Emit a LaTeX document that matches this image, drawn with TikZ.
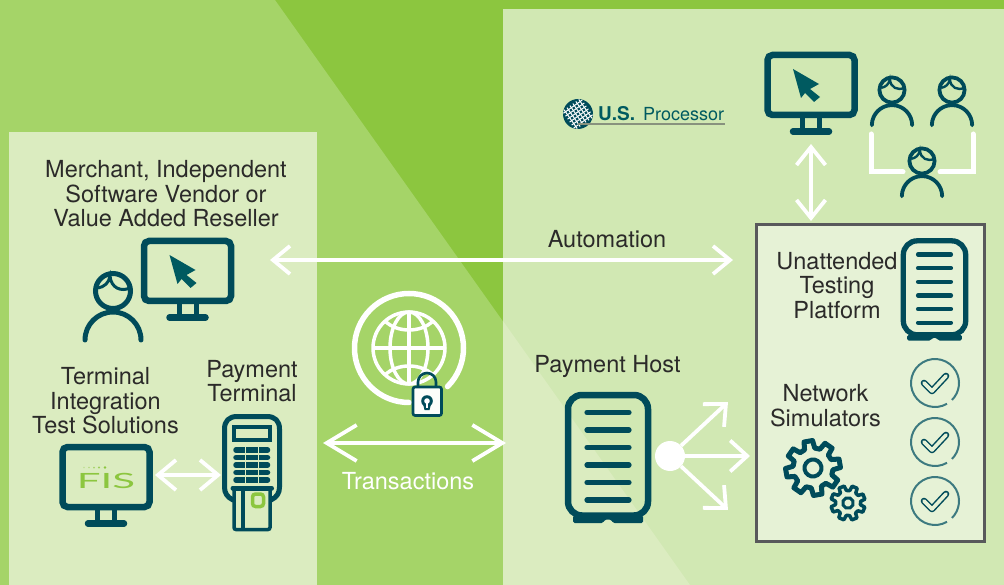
\documentclass[tikz,border=0pt]{standalone}
\usepackage{fontspec}
\setmainfont{TeX Gyre Heros}
\newfontfamily\fislogo{Lato}
\usetikzlibrary{arrows.meta}
\definecolor{topgreen}{HTML}{8CC63F}
\definecolor{midgreen}{HTML}{A5D468}
\definecolor{leftpanel}{HTML}{DBECC0}
\definecolor{rightpanel}{HTML}{D1E8B3}
\definecolor{boxfill}{HTML}{E6F2D6}
\definecolor{boxline}{HTML}{58595B}
\definecolor{icondark}{HTML}{004B5A}
\definecolor{cursordark}{HTML}{005A60}
\definecolor{checkring}{HTML}{3D7A80}
\definecolor{labeldark}{HTML}{2B2A29}
\tikzset{
  label/.style={text=labeldark,font=\fontsize{23.5}{24.5}\selectfont,align=center,inner sep=0pt},
  whitearrow/.style={draw=white,line width=3.8pt},
  bothtips/.style 2 args={arrows={Straight Barb[length=#1,width=#2]-Straight Barb[length=#1,width=#2]}},
  onetip/.style={arrows={-Straight Barb[length=17pt,width=31pt]}},
  iconline/.style={draw=icondark},
  pics/monitor/.style={code={
    \draw[iconline,line width=6.5pt,rounded corners=5pt] (-43.5,3) rectangle (43.5,63);
    \draw[iconline,line width=5pt] (-8.5,63) -- (-8.5,79) (8.5,63) -- (8.5,79);
    \draw[iconline,line width=6.5pt,line cap=round] (-18,79.5) -- (18,79.5);
  }},
  pics/cursor/.style={code={
    \fill[cursordark] (-18,17) -- (8,32) -- (-1,37) -- (9,45) -- (3,50) -- (-6,41) -- (-10,46) -- cycle;
  }},
  pics/person/.style={code={
    \draw[iconline] (0,0) circle (17.5);
    \draw[iconline,line cap=round] (-28,49) arc[start angle=180,end angle=360,radius=28];
    \draw[iconline,line width=#1] (-15,-3) .. controls (-9,-4) and (-4,-8) .. (-3,-15) .. controls (-2,-3) and (8,1) .. (17,-3);
  }},
  pics/server/.style={code={
    \draw[iconline,rounded corners=14pt] (-40,-60.5) rectangle (40,60);
    \fill[icondark,rounded corners=1.5pt] (-35,60) -- (-35,67.5) -- (-5,67.5) -- (-3,64) -- (3,64) -- (5,67.5) -- (35,67.5) -- (35,60) -- cycle;
    \foreach \y in {-43,-25.5,-8,9.5,27,44.5}
      \draw[iconline,line cap=round,line width=#1] (-21,\y) -- (21,\y);
  }},
  pics/checkring/.style={code={
    \draw[draw=checkring,line width=2pt] (0,0) ++(60:24) arc[start angle=60,end angle=405,radius=24];
    \draw[icondark,line width=1.5pt,double=boxfill,double distance=3.6pt,line join=round,line cap=round] (-11,0) -- (-3,8) -- (11,-7);
  }},
  pics/gear/.style={code={
    \draw[iconline,fill=boxfill,line join=round] (-15:20) \foreach \a in {0,45,...,315} {
      -- (\a-15:20) -- (\a-9:27.5) -- (\a+9:27.5) -- (\a+15:20) } -- cycle;
    \draw[iconline,line width=#1] (0,0) circle (8.5);
  }},
}
\begin{document}
\begin{tikzpicture}[x=1pt,y=-1pt]
  \useasboundingbox (0,0) rectangle (1004,585);
  \fill[topgreen] (0,0) rectangle (1004,585);
  \fill[midgreen] (0,0) -- (275,0) -- (690,585) -- (0,585) -- cycle;
  \fill[leftpanel] (9,132) rectangle (317,585);
  \fill[rightpanel] (503,9) rectangle (1004,585);
  \fill[leftpanel] (503,321) -- (690,585) -- (503,585) -- cycle;
  \node[draw=boxline,fill=boxfill,line width=3pt,minimum width=228pt,minimum height=317pt,inner sep=0pt] (testbox) at (870.5,383) {};

  \node[label] (merchant) at (166,194) {Merchant, Independent\\Software Vendor or\\Value Added Reseller};
  \node[label] (testsolutions) at (105.5,401) {Terminal\\Integration\\Test Solutions};
  \node[label] (terminal) at (252,381) {Payment\\Terminal};
  \node[label] (automation) at (607,239) {Automation};
  \node[label,text=white] (transactions) at (408,481) {Transactions};
  \node[label] (host) at (607.5,366) {Payment Host};
  \node[label] (platform) at (837,285.5) {Unattended\\Testing\\Platform};
  \node[label] (simulators) at (825.5,405.5) {Network\\Simulators};

  \pic at (187.5,238) {monitor};
  \pic at (187.5,238) {cursor};
  \pic[line width=5pt] at (113,291) {person={3pt}};
  \pic at (106,444) {monitor};
  \pic at (811,52) {monitor};
  \pic at (811,52) {cursor};
  \pic[scale=.72,line width=3.8pt] at (892,90) {person={2.4pt}};
  \pic[scale=.72,line width=3.8pt] at (952,90) {person={2.4pt}};
  \pic[scale=.72,line width=3.8pt] at (922,161) {person={2.4pt}};
  \pic[line width=6.5pt] at (608,455.5) {server={5.2pt}};
  \pic[scale=.78,line width=5.3pt] at (934.5,288) {server={4.4pt}};
  \pic at (935,383) {checkring};
  \pic at (935,442) {checkring};
  \pic at (935,501) {checkring};
  \pic[line width=5pt,rotate=10] at (813,468) {gear={4pt}};
  \pic[scale=.63,line width=3.5pt,rotate=22] at (848,503) {gear={3pt}};

  \draw[draw=white,line width=5pt,line cap=round] (871,134) -- (871,172) -- (903,172);
  \draw[draw=white,line width=5pt,line cap=round] (973,134) -- (973,172) -- (940,172);

  \node[text=topgreen,font=\fislogo\fontsize{21}{21}\selectfont,xscale=2,inner sep=0pt] (fis) at (106,480.5) {FIS};
  \foreach \x/\r/\c in {84/.8/35,89/.9/50,94/1/65,99/1.1/80,105/1.4/100}
    \fill[topgreen!\c!leftpanel] (\x,467.5) circle (\r);

  \draw[iconline,line width=5pt,line join=round,line cap=round,fill=leftpanel] (233,500) .. controls (227,497) and (224.5,493) .. (224.5,487) -- (224.5,429) .. controls (224.5,421) and (229,416.5) .. (237,416.5) -- (267,416.5) .. controls (275,416.5) and (279.5,421) .. (279.5,429) -- (279.5,487) .. controls (279.5,493) and (277,497) .. (271,500);
  \draw[iconline,line width=4pt] (234,427) rectangle (270,440);
  \foreach \y in {450,457.5,465,472.5,480}
    \draw[iconline,line width=5.5pt,line cap=round] (236,\y) -- (267.5,\y);
  \draw[draw=leftpanel,line width=.8pt] (245.7,446) -- (245.7,484) (258,446) -- (258,484);
  \draw[iconline,line width=3.5pt,fill=leftpanel,rounded corners=2pt] (234,488) rectangle (270,529.5);
  \draw[iconline,line width=3.5pt] (243,488) -- (243,529.5);
  \draw[iconline,line width=5pt,line cap=round] (233,488) -- (271.5,488);
  \draw[draw=topgreen,line width=3.5pt,rounded corners=3pt] (252.5,494) rectangle (263.5,506.5);

  \begin{scope}[shift={(409,348)}]
    \draw[draw=white,line width=5.5pt,line cap=round] (45:54.5) arc[start angle=45,end angle=-270,radius=54.5];
    \draw[draw=white,line width=3.5pt] (0,0) circle (36);
    \draw[draw=white,line width=3.5pt] (0,0) ellipse (19 and 36);
    \draw[draw=white,line width=3.5pt] (0,-36) -- (0,36) (-36,0) -- (36,0);
    \draw[draw=white,line width=3.5pt] (-24,-27) .. controls (-12,-15) and (12,-15) .. (24,-27);
    \draw[draw=white,line width=3.5pt] (-24,27) .. controls (-12,15) and (12,15) .. (24,27);
  \end{scope}
  \draw[iconline,line width=2.6pt] (418,387) -- (418,382) arc[start angle=180,end angle=360,radius=9] -- (436,387);
  \draw[iconline,line width=2.6pt,fill=white!92!leftpanel,rounded corners=2pt] (413,387) rectangle (441.5,415.5);
  \fill[icondark] (427,401) circle (5.8);
  \fill[icondark] (423,404) -- (431,404) -- (429.5,410) -- (424.5,410) -- cycle;
  \fill[white] (427,401) circle (2.8);
  \fill[white] (425.7,402) rectangle (428.3,407.5);

  \fill[icondark] (578,114) circle (15);
  \begin{scope}[rotate around={35:(578,114)}]
    \foreach \t in {-9,-5.4,...,9.1} {
      \draw[draw=white,line width=1pt] (578+\t,102.5) -- (578+\t,125.5);
      \draw[draw=white,line width=1pt] (566.5,114+\t) -- (589.5,114+\t);
    }
  \end{scope}
  \draw[draw=boxline!60!rightpanel,line width=1.2pt] (578,124) -- (725,124);
  \node[text=cursordark,font=\fontsize{19}{19}\selectfont\bfseries,inner sep=0pt,anchor=base west] (usmark) at (598,120.5) {U.S.};
  \node[text=cursordark,font=\fontsize{18}{18}\selectfont,inner sep=0pt,anchor=base west] (processor) at (643,120.5) {Processor};

  \coordinate (autoleft) at (270,260);
  \coordinate (autoright) at (733,260);
  \coordinate (transleft) at (323,443);
  \coordinate (transright) at (506,443);
  \coordinate (fisside) at (155,475);
  \coordinate (termside) at (221,475);
  \coordinate (montop) at (811,144);
  \coordinate (boxside) at (811,221);
  \coordinate (fanup) at (728,402);
  \coordinate (fanmid) at (750,456);
  \coordinate (fandown) at (728,510);
  \node[circle,fill=white,minimum size=30pt,inner sep=0pt] (hub) at (670,456) {};
  \draw[whitearrow,bothtips={17pt}{28pt}] (autoleft) -- (autoright);
  \draw[whitearrow,bothtips={30pt}{36pt}] (transleft) -- (transright);
  \draw[whitearrow,bothtips={18pt}{30pt}] (fisside) -- (termside);
  \draw[whitearrow,bothtips={18pt}{29pt}] (montop) -- (boxside);
  \draw[whitearrow,onetip] (hub) -- (fanup);
  \draw[whitearrow,onetip] (hub) -- (fanmid);
  \draw[whitearrow,onetip] (hub) -- (fandown);
\end{tikzpicture}
\end{document}
